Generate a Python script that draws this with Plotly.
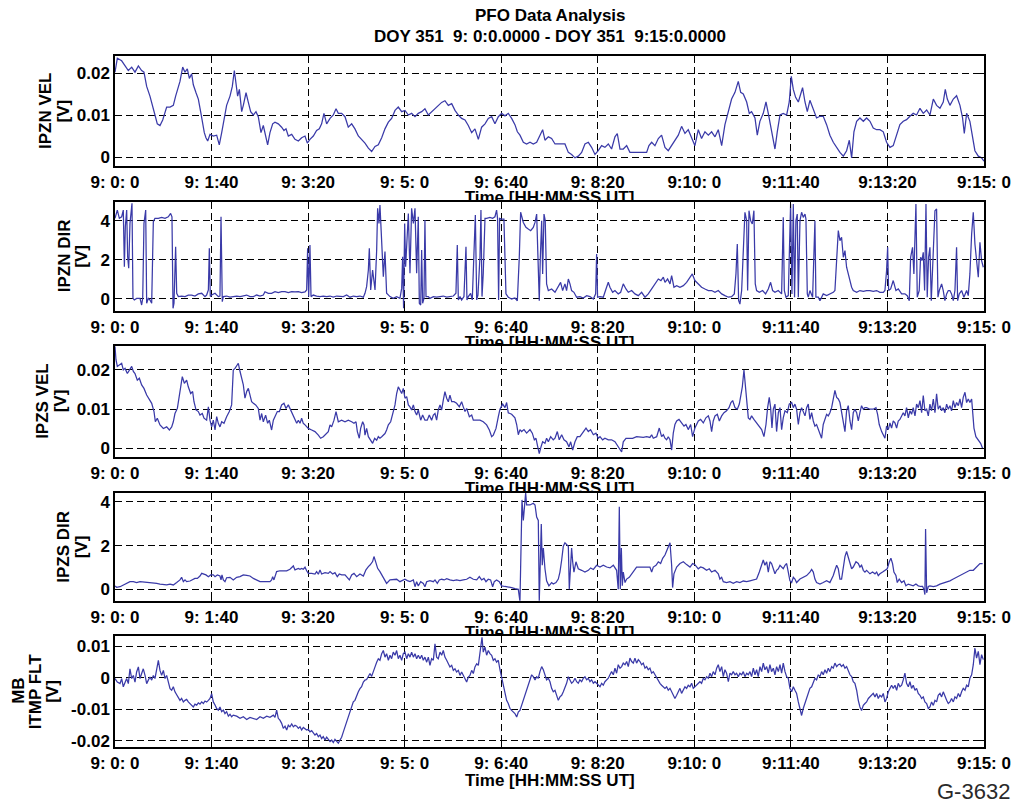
import plotly.graph_objects as go

# ---- sampled channels: (seconds after 9:00:00 UT, volts) ----
ipzn_vel = [
    (0.0, 0.0202), (2.4, 0.0235), (6.9, 0.0229), (10.4, 0.0217), (13.8, 0.0206), (17.3, 0.0214),
    (20.7, 0.0202), (24.2, 0.0217), (27.6, 0.0206), (30.0, 0.0202), (32.8, 0.0168), (36.2, 0.0145),
    (39.0, 0.0123), (41.4, 0.0100), (43.8, 0.0079), (46.6, 0.0075), (49.4, 0.0088), (51.8, 0.0104),
    (53.5, 0.0119), (57.0, 0.0119), (60.4, 0.0123), (62.8, 0.0145), (65.6, 0.0164), (67.3, 0.0180),
    (70.1, 0.0214), (72.5, 0.0202), (74.9, 0.0210), (77.0, 0.0187), (79.4, 0.0198), (81.1, 0.0172),
    (83.9, 0.0153), (86.3, 0.0138), (88.7, 0.0108), (90.8, 0.0075), (92.5, 0.0058), (94.2, 0.0046),
    (96.0, 0.0038), (98.4, 0.0054), (101.8, 0.0050), (105.3, 0.0052), (108.0, 0.0029), (110.5, 0.0058),
    (112.9, 0.0092), (115.6, 0.0123), (119.1, 0.0145), (121.5, 0.0168), (123.6, 0.0206), (125.3, 0.0168),
    (127.0, 0.0145), (128.8, 0.0161), (131.2, 0.0108), (132.9, 0.0123), (135.7, 0.0153), (138.1, 0.0130),
    (140.5, 0.0108), (143.3, 0.0100), (146.0, 0.0108), (148.4, 0.0096), (151.2, 0.0058), (153.6, 0.0075),
    (156.0, 0.0046), (158.1, 0.0029), (160.5, 0.0058), (163.3, 0.0079), (165.7, 0.0083), (169.1, 0.0079),
    (172.6, 0.0071), (175.0, 0.0063), (177.1, 0.0067), (179.5, 0.0050), (183.0, 0.0054), (186.4, 0.0042),
    (189.9, 0.0038), (193.3, 0.0046), (196.8, 0.0050), (199.2, 0.0033), (201.9, 0.0042), (205.4, 0.0050),
    (208.8, 0.0063), (211.6, 0.0067), (214.0, 0.0079), (216.4, 0.0104), (219.2, 0.0079), (222.7, 0.0092),
    (226.1, 0.0100), (228.9, 0.0115), (231.3, 0.0104), (234.7, 0.0104), (238.2, 0.0096), (241.6, 0.0071),
    (245.1, 0.0079), (248.5, 0.0067), (252.0, 0.0050), (255.4, 0.0042), (258.9, 0.0033), (262.4, 0.0021),
    (265.8, 0.0013), (269.3, 0.0025), (272.7, 0.0029), (276.2, 0.0046), (279.6, 0.0067), (283.1, 0.0083),
    (286.5, 0.0092), (290.0, 0.0111), (293.4, 0.0119), (296.9, 0.0108), (300.3, 0.0111), (303.8, 0.0100),
    (307.2, 0.0104), (310.7, 0.0096), (314.1, 0.0104), (317.6, 0.0108), (321.0, 0.0115), (324.5, 0.0100),
    (327.9, 0.0108), (331.4, 0.0115), (334.8, 0.0123), (338.3, 0.0130), (341.7, 0.0134), (345.2, 0.0123),
    (348.7, 0.0127), (352.1, 0.0111), (355.6, 0.0100), (359.0, 0.0092), (362.5, 0.0088), (365.9, 0.0075),
    (369.4, 0.0058), (372.8, 0.0067), (376.3, 0.0042), (379.7, 0.0071), (383.2, 0.0079), (386.6, 0.0092),
    (390.1, 0.0096), (393.5, 0.0079), (397.0, 0.0096), (400.4, 0.0104), (403.9, 0.0098), (407.3, 0.0104),
    (410.8, 0.0092), (414.2, 0.0077), (416.7, 0.0060), (419.4, 0.0052), (422.9, 0.0035), (426.3, 0.0031),
    (429.8, 0.0035), (433.2, 0.0031), (436.7, 0.0035), (440.1, 0.0052), (442.9, 0.0065), (445.3, 0.0040),
    (448.8, 0.0048), (452.2, 0.0044), (455.7, 0.0031), (459.1, 0.0031), (462.6, 0.0031), (466.0, 0.0031),
    (469.5, 0.0011), (472.9, 0.0006), (476.4, -0.0002), (479.8, 0.0002), (483.3, 0.0011), (486.7, 0.0031),
    (490.2, 0.0035), (493.6, 0.0023), (497.1, 0.0006), (500.5, 0.0015), (504.0, 0.0027), (507.4, 0.0023),
    (510.9, 0.0031), (514.3, 0.0019), (517.8, 0.0048), (520.2, 0.0056), (523.0, 0.0019), (526.4, 0.0019),
    (529.9, 0.0027), (533.3, 0.0011), (536.8, 0.0011), (543.7, 0.0011), (550.6, 0.0011), (553.0, 0.0027),
    (555.8, 0.0035), (559.2, 0.0027), (562.7, 0.0044), (566.1, 0.0052), (569.6, 0.0023), (573.0, 0.0015),
    (576.5, 0.0027), (579.9, 0.0040), (583.4, 0.0052), (586.8, 0.0073), (590.3, 0.0056), (593.7, 0.0065),
    (597.2, 0.0044), (600.6, 0.0027), (604.1, 0.0065), (607.5, 0.0044), (611.0, 0.0060), (614.5, 0.0052),
    (617.9, 0.0060), (621.4, 0.0048), (624.8, 0.0065), (628.3, 0.0027), (631.7, 0.0077), (635.2, 0.0112),
    (638.6, 0.0138), (642.1, 0.0154), (645.5, 0.0180), (648.0, 0.0154), (650.7, 0.0150), (654.2, 0.0131),
    (656.9, 0.0104), (659.3, 0.0108), (662.8, 0.0093), (665.2, 0.0052), (667.9, 0.0085), (671.4, 0.0104),
    (674.2, 0.0131), (676.6, 0.0104), (680.0, 0.0060), (683.5, 0.0019), (685.9, 0.0060), (688.7, 0.0100),
    (692.1, 0.0104), (695.6, 0.0100), (698.3, 0.0131), (700.4, 0.0192), (702.5, 0.0161), (704.9, 0.0142),
    (707.7, 0.0131), (710.1, 0.0150), (712.1, 0.0165), (714.6, 0.0131), (717.0, 0.0108), (719.7, 0.0135),
    (723.2, 0.0116), (726.6, 0.0093), (730.1, 0.0097), (733.5, 0.0097), (737.0, 0.0077), (740.4, 0.0052),
    (743.9, 0.0035), (747.3, 0.0023), (750.8, 0.0011), (754.3, 0.0002), (757.7, 0.0015), (760.5, 0.0040),
    (762.9, -0.0002), (765.3, 0.0060), (768.1, 0.0085), (771.5, 0.0093), (775.0, 0.0085), (778.4, 0.0093),
    (781.9, 0.0085), (785.3, 0.0069), (788.8, 0.0065), (792.2, 0.0065), (795.7, 0.0060), (799.1, 0.0035),
    (802.6, 0.0023), (806.0, 0.0027), (809.5, 0.0052), (812.9, 0.0077), (816.4, 0.0085), (819.8, 0.0089),
    (823.3, 0.0097), (826.7, 0.0104), (830.2, 0.0100), (833.7, 0.0116), (837.1, 0.0104), (840.6, 0.0112),
    (844.0, 0.0100), (847.5, 0.0138), (850.9, 0.0123), (854.4, 0.0116), (857.8, 0.0131), (859.9, 0.0161),
    (862.0, 0.0138), (864.7, 0.0123), (868.2, 0.0138), (871.6, 0.0146), (875.1, 0.0123), (877.8, 0.0093),
    (879.6, 0.0056), (882.0, 0.0104), (885.4, 0.0085), (888.2, 0.0044), (890.6, 0.0015), (894.1, 0.0002),
    (897.5, -0.0002), (900.0, -0.0010),
]

ipzn_dir = [
    (0.0, 4.12), (2.4, 4.54), (4.5, 4.12), (6.9, 4.20), (8.6, 4.54), (9.7, 1.65), (10.7, 3.69),
    (12.1, 4.54), (13.1, 2.16), (14.2, 1.57), (15.5, 3.86), (16.6, 4.71), (17.6, 4.89), (18.6, 0.03),
    (20.0, -0.05), (22.4, 0.03), (25.9, 0.03), (27.6, -0.31), (28.7, 0.03), (30.0, 3.86), (31.8, 4.54),
    (32.8, -0.22), (34.5, 0.03), (36.2, -0.05), (38.0, -0.22), (39.7, 3.95), (41.4, 4.12), (44.9, 4.12),
    (48.3, 4.17), (51.8, 4.12), (55.2, 4.20), (57.6, 4.37), (59.0, 4.20), (60.1, -0.48), (61.1, -0.22),
    (62.8, 2.67), (63.9, 0.29), (65.6, 0.12), (69.0, 0.15), (72.5, 0.12), (75.9, 0.19), (79.4, 0.20),
    (82.8, 0.15), (86.3, 0.26), (89.8, 0.29), (93.2, 0.12), (94.9, 0.20), (96.7, 0.46), (97.7, 2.59),
    (98.7, 0.12), (100.1, 0.20), (103.6, 0.29), (107.0, 0.12), (108.7, 0.15), (109.8, 4.20), (111.1, -0.14),
    (112.2, 0.12), (115.6, 0.15), (119.1, 0.09), (122.5, 0.12), (126.0, 0.15), (129.5, 0.12), (132.9, 0.15),
    (136.4, 0.20), (139.8, 0.12), (143.3, 0.12), (146.7, 0.20), (150.2, 0.15), (153.6, 0.20), (155.3, 0.37),
    (158.8, 0.29), (162.2, 0.29), (165.7, 0.37), (169.1, 0.32), (172.6, 0.37), (176.1, 0.37), (179.5, 0.32),
    (183.0, 0.37), (186.4, 0.36), (189.9, 0.37), (193.3, 0.32), (196.8, 0.36), (198.5, 0.46), (199.5, 2.59),
    (200.6, 0.12), (201.9, 2.76), (203.0, 0.12), (205.4, 0.20), (208.8, 0.15), (212.3, 0.12), (215.7, 0.15),
    (219.2, 0.12), (222.7, 0.15), (226.1, 0.09), (229.6, 0.15), (233.0, 0.12), (236.5, 0.12), (239.9, 0.20),
    (243.4, 0.09), (246.8, 0.15), (250.3, 0.12), (253.7, 0.15), (257.2, 0.09), (258.9, 0.29), (260.6, 0.63),
    (262.4, 1.48), (263.4, 2.59), (264.8, 0.46), (266.8, 1.48), (269.3, 0.46), (271.0, 2.50), (272.0, 4.63),
    (273.4, 3.86), (274.4, 4.80), (275.5, 3.52), (276.5, 2.42), (277.9, 1.14), (279.6, 2.42), (281.3, 0.29),
    (284.8, 0.12), (288.2, 0.03), (291.7, 0.12), (295.1, 0.03), (296.9, 0.54), (297.9, 2.16), (298.9, -0.48),
    (300.0, 3.86), (301.0, 1.65), (302.1, 3.01), (303.8, 4.37), (305.5, 1.31), (307.2, 4.63), (309.0, 3.86),
    (310.7, 4.63), (312.4, 1.31), (314.1, 4.20), (315.2, -0.22), (316.6, -0.31), (317.6, 2.50), (318.6, -0.22),
    (320.0, 0.03), (321.0, 4.03), (322.1, 0.12), (324.5, 0.12), (326.2, 0.03), (329.7, 0.12), (333.1, 0.09),
    (336.6, 0.12), (340.0, 0.15), (343.5, 0.09), (346.9, 0.12), (350.4, 0.15), (353.1, 0.29), (354.5, 2.76),
    (355.6, -0.05), (357.3, 0.12), (359.0, -0.05), (361.4, 0.12), (363.5, 2.67), (364.5, -0.05), (365.9, 0.12),
    (368.3, 0.29), (370.0, -0.05), (371.8, 2.16), (373.2, 4.29), (374.6, -0.05), (375.9, 0.20), (378.0, 2.16),
    (379.0, 4.54), (380.1, 0.12), (381.4, 1.31), (383.2, 4.12), (384.9, 4.12), (388.3, 4.17), (391.1, 4.12),
    (393.5, 4.20), (395.2, 4.54), (396.2, 4.12), (397.3, -0.05), (398.3, 4.12), (400.4, 4.08), (402.8, 4.08),
    (404.9, 0.26), (407.3, 0.09), (410.8, 0.00), (414.2, 0.05), (416.7, -0.09), (418.7, 2.13), (420.1, 4.43),
    (422.9, 3.91), (425.6, 3.66), (428.0, 3.57), (430.5, 3.49), (433.2, 3.66), (435.0, 3.91), (436.7, 4.34),
    (438.1, 1.28), (439.4, -0.09), (440.5, 2.13), (441.9, 4.00), (442.9, 1.28), (444.3, 4.34), (445.6, 4.00),
    (447.0, 0.77), (448.8, 0.43), (452.2, 0.51), (455.7, 0.34), (459.1, 0.60), (461.5, 0.85), (463.6, 0.43),
    (466.0, 0.77), (467.7, 0.43), (469.5, 1.02), (471.2, 0.77), (472.9, 0.43), (475.3, 0.34), (478.1, 0.09),
    (481.5, 0.12), (485.0, 0.05), (488.5, 0.17), (491.9, 0.12), (495.4, 0.00), (497.8, 0.26), (498.8, 2.30),
    (499.8, 0.09), (502.3, 0.12), (505.7, 0.09), (508.5, 0.51), (510.9, 0.85), (512.6, 0.60), (515.4, 0.34),
    (517.8, 0.43), (521.2, 0.26), (523.7, 0.34), (526.4, 0.77), (529.2, 0.51), (531.6, 0.34), (535.1, 0.43),
    (538.5, 0.26), (542.0, 0.17), (545.4, 0.34), (548.9, 0.09), (552.3, 0.26), (555.8, 0.51), (559.2, 0.77),
    (562.7, 1.02), (565.4, 0.94), (567.9, 1.11), (569.6, 0.85), (572.3, 1.02), (574.8, 0.77), (576.5, 1.19),
    (578.9, 0.60), (581.7, 0.68), (585.1, 0.60), (588.6, 0.68), (592.0, 0.85), (595.5, 1.11), (597.9, 1.28),
    (600.6, 0.94), (604.1, 0.77), (607.5, 0.60), (611.0, 0.51), (614.5, 0.43), (617.9, 0.43), (621.4, 0.34),
    (624.8, 0.43), (628.3, 0.26), (631.7, 0.17), (635.2, 0.09), (638.6, 0.12), (641.4, 0.26), (643.1, 1.28),
    (644.5, 2.81), (645.9, -0.09), (647.2, -0.26), (649.0, 0.43), (650.7, 2.13), (652.4, 4.43), (654.2, 4.00),
    (655.2, 0.43), (656.6, 4.51), (658.3, 4.00), (660.0, 3.83), (661.7, 4.51), (663.1, 0.77), (664.5, 0.43),
    (667.3, 0.34), (670.7, 0.43), (673.8, 0.26), (676.6, 0.51), (679.0, 0.85), (681.1, 0.43), (683.5, 0.34),
    (686.9, 0.43), (690.4, 0.26), (692.1, 4.17), (693.2, 0.43), (694.9, 0.09), (697.3, 0.17), (698.3, 2.13),
    (699.7, 4.85), (701.1, 0.26), (702.5, 4.85), (703.8, 0.09), (705.2, 4.00), (706.6, 4.34), (707.7, 0.09),
    (709.4, 4.00), (711.1, 4.43), (712.8, 4.17), (714.6, 4.34), (715.6, 4.08), (717.0, 0.26), (718.0, 0.09),
    (719.7, 0.43), (722.5, 0.09), (724.9, 4.00), (725.9, 0.09), (728.4, 0.09), (730.1, -0.09), (733.5, 0.26),
    (737.0, 0.17), (740.4, 0.26), (743.9, 0.34), (745.6, 0.43), (747.4, 2.13), (749.1, 3.49), (750.8, 2.98),
    (752.5, 3.15), (754.3, 2.13), (756.0, 2.47), (757.7, 1.62), (759.4, 1.28), (761.2, 0.94), (762.9, 0.60),
    (764.6, 0.43), (768.1, 0.34), (771.5, 0.43), (775.0, 0.39), (778.4, 0.43), (781.9, 0.43), (785.3, 0.39),
    (788.8, 0.43), (792.2, 0.34), (795.7, 0.34), (797.4, 0.43), (799.1, 1.45), (800.2, 2.64), (801.2, 0.43),
    (803.3, 0.51), (806.0, 0.94), (808.8, 0.43), (811.2, 0.51), (814.7, 0.26), (818.1, 0.26), (820.5, 0.17),
    (822.6, -0.09), (824.0, 2.13), (826.0, 2.64), (827.4, 1.28), (829.5, 4.85), (830.9, 0.09), (832.9, 0.43),
    (834.3, 2.13), (835.7, 1.96), (837.1, 2.38), (838.5, 0.43), (839.9, 4.85), (841.2, 0.09), (842.6, 2.13),
    (844.0, 2.64), (845.4, -0.09), (847.5, 2.13), (849.2, 4.51), (850.9, 4.60), (852.3, 0.09), (853.7, 0.43),
    (856.1, 0.77), (857.8, 0.43), (859.5, -0.09), (861.3, 0.26), (863.0, 0.43), (864.7, 0.43), (866.4, 0.26),
    (868.2, -0.09), (869.9, 0.43), (871.6, 2.64), (872.7, -0.09), (874.4, 0.26), (876.8, 0.43), (879.2, 0.09),
    (882.0, 0.43), (883.7, 0.17), (885.4, 1.28), (887.2, 3.32), (888.9, 4.43), (890.6, 2.81), (892.3, 2.13),
    (894.1, 1.11), (895.8, 2.89), (897.5, 1.96), (899.3, 1.62),
]

ipzs_vel = [
    (0.0, 0.0260), (1.0, 0.0226), (2.4, 0.0209), (4.5, 0.0213), (6.9, 0.0217), (8.6, 0.0200),
    (10.4, 0.0204), (12.8, 0.0191), (14.8, 0.0200), (17.3, 0.0209), (19.0, 0.0196), (20.7, 0.0191),
    (23.1, 0.0174), (25.2, 0.0179), (27.6, 0.0162), (30.0, 0.0153), (32.8, 0.0136), (35.6, 0.0123),
    (38.0, 0.0115), (40.4, 0.0094), (41.8, 0.0068), (43.8, 0.0077), (46.6, 0.0060), (50.1, 0.0051),
    (53.5, 0.0055), (56.3, 0.0047), (58.7, 0.0055), (60.4, 0.0068), (62.1, 0.0089), (64.6, 0.0102),
    (67.3, 0.0140), (69.7, 0.0183), (71.8, 0.0166), (74.2, 0.0174), (75.9, 0.0157), (78.4, 0.0140),
    (80.4, 0.0145), (81.8, 0.0119), (83.9, 0.0098), (86.3, 0.0094), (88.0, 0.0085), (90.4, 0.0089),
    (92.2, 0.0077), (94.9, 0.0072), (96.7, 0.0106), (98.4, 0.0072), (100.1, 0.0055), (101.8, 0.0072),
    (103.6, 0.0047), (105.3, 0.0081), (107.0, 0.0064), (108.7, 0.0055), (110.5, 0.0068), (112.9, 0.0064),
    (115.6, 0.0081), (118.4, 0.0094), (120.8, 0.0111), (122.5, 0.0200), (124.3, 0.0204), (126.0, 0.0209),
    (127.7, 0.0217), (129.5, 0.0196), (131.2, 0.0174), (132.9, 0.0162), (134.6, 0.0128), (136.4, 0.0145),
    (138.1, 0.0153), (139.8, 0.0132), (141.5, 0.0119), (143.3, 0.0115), (145.7, 0.0111), (148.4, 0.0102),
    (150.2, 0.0072), (151.9, 0.0089), (153.6, 0.0068), (156.0, 0.0085), (158.1, 0.0064), (159.8, 0.0072),
    (162.2, 0.0047), (164.0, 0.0072), (165.7, 0.0081), (168.1, 0.0094), (170.2, 0.0094), (172.6, 0.0111),
    (175.0, 0.0115), (177.1, 0.0102), (179.5, 0.0111), (181.9, 0.0098), (184.0, 0.0085), (186.4, 0.0072),
    (188.2, 0.0064), (189.9, 0.0072), (191.6, 0.0064), (193.3, 0.0077), (195.0, 0.0064), (196.8, 0.0060),
    (198.5, 0.0055), (200.2, 0.0051), (203.7, 0.0047), (207.1, 0.0043), (210.6, 0.0034), (213.0, 0.0026),
    (215.7, 0.0030), (218.5, 0.0038), (220.9, 0.0043), (222.7, 0.0060), (224.4, 0.0055), (226.8, 0.0072),
    (228.9, 0.0094), (231.3, 0.0068), (234.7, 0.0072), (238.2, 0.0068), (241.6, 0.0072), (245.1, 0.0068),
    (247.5, 0.0064), (249.6, 0.0068), (251.0, 0.0043), (253.0, 0.0026), (254.4, 0.0051), (256.5, 0.0068),
    (257.9, 0.0060), (258.9, 0.0034), (260.6, 0.0051), (262.4, 0.0030), (264.8, 0.0021), (266.8, 0.0013),
    (268.9, 0.0026), (271.0, 0.0021), (272.7, 0.0030), (274.4, 0.0026), (276.2, 0.0030), (277.9, 0.0034),
    (279.6, 0.0038), (281.3, 0.0047), (283.1, 0.0060), (285.5, 0.0068), (287.6, 0.0089), (290.0, 0.0111),
    (291.7, 0.0140), (293.4, 0.0157), (295.1, 0.0149), (296.9, 0.0140), (298.6, 0.0153), (300.3, 0.0128),
    (302.1, 0.0132), (303.8, 0.0111), (305.5, 0.0106), (307.2, 0.0098), (309.0, 0.0111), (310.7, 0.0094),
    (312.4, 0.0085), (314.1, 0.0098), (316.6, 0.0072), (318.6, 0.0085), (321.0, 0.0072), (323.4, 0.0072),
    (325.5, 0.0085), (327.9, 0.0072), (329.7, 0.0085), (331.4, 0.0089), (333.1, 0.0072), (334.8, 0.0098),
    (336.6, 0.0111), (338.3, 0.0098), (340.0, 0.0123), (341.7, 0.0145), (343.5, 0.0128), (345.2, 0.0119),
    (346.9, 0.0136), (348.7, 0.0119), (351.1, 0.0119), (353.8, 0.0115), (356.6, 0.0106), (359.0, 0.0119),
    (360.7, 0.0106), (362.5, 0.0094), (364.2, 0.0102), (367.0, 0.0081), (369.4, 0.0085), (371.1, 0.0072),
    (374.6, 0.0072), (378.0, 0.0072), (381.4, 0.0068), (384.9, 0.0060), (387.7, 0.0047), (390.1, 0.0030),
    (391.8, 0.0034), (394.6, 0.0051), (397.0, 0.0081), (398.7, 0.0100), (401.5, 0.0113), (403.9, 0.0104),
    (405.6, 0.0117), (407.3, 0.0091), (410.8, 0.0087), (414.2, 0.0078), (416.0, 0.0061), (417.7, 0.0035),
    (419.4, 0.0048), (421.1, 0.0043), (423.6, 0.0048), (426.3, 0.0039), (429.8, 0.0048), (432.2, 0.0039),
    (434.3, 0.0022), (436.0, 0.0026), (437.4, 0.0009), (439.4, -0.0013), (441.2, 0.0004), (442.9, 0.0017),
    (445.3, 0.0013), (447.0, 0.0026), (448.8, 0.0017), (451.2, 0.0030), (453.9, 0.0022), (455.7, 0.0026),
    (458.1, 0.0043), (460.1, 0.0022), (462.6, 0.0035), (465.0, 0.0022), (467.7, 0.0017), (470.2, 0.0004),
    (471.9, 0.0017), (474.0, -0.0004), (476.4, 0.0017), (478.8, 0.0030), (481.5, 0.0030), (485.0, 0.0043),
    (487.8, 0.0052), (490.2, 0.0043), (492.6, 0.0048), (495.4, 0.0035), (498.1, 0.0039), (500.5, 0.0026),
    (502.3, 0.0030), (505.0, 0.0022), (507.4, 0.0026), (510.9, 0.0022), (514.3, 0.0022), (517.8, 0.0017),
    (520.2, 0.0009), (522.3, 0.0000), (524.7, -0.0009), (526.4, 0.0017), (529.2, 0.0026), (532.6, 0.0026),
    (536.1, 0.0026), (540.2, 0.0030), (543.7, 0.0028), (547.1, 0.0028), (550.6, 0.0030), (554.0, 0.0028),
    (555.8, 0.0035), (557.5, 0.0026), (561.0, 0.0030), (563.7, 0.0052), (566.1, 0.0030), (567.9, 0.0035),
    (569.6, 0.0026), (571.3, 0.0022), (573.0, 0.0030), (574.8, 0.0022), (576.5, -0.0004), (578.2, 0.0039),
    (579.9, 0.0061), (581.7, 0.0070), (584.1, 0.0074), (586.8, 0.0065), (589.3, 0.0057), (591.3, 0.0061),
    (593.7, 0.0048), (596.2, 0.0061), (598.2, 0.0030), (600.6, 0.0052), (602.4, 0.0061), (604.1, 0.0070),
    (606.5, 0.0074), (609.3, 0.0065), (612.0, 0.0078), (614.5, 0.0083), (616.2, 0.0070), (617.9, 0.0043),
    (619.6, 0.0070), (621.4, 0.0083), (623.8, 0.0087), (625.9, 0.0070), (628.3, 0.0083), (630.7, 0.0091),
    (633.4, 0.0096), (635.9, 0.0104), (637.9, 0.0117), (639.7, 0.0122), (642.1, 0.0104), (644.5, 0.0100),
    (646.6, 0.0113), (648.0, 0.0130), (649.7, 0.0157), (651.4, 0.0200), (652.8, 0.0165), (654.2, 0.0113),
    (655.9, 0.0078), (657.6, 0.0074), (659.3, 0.0083), (661.7, 0.0074), (664.5, 0.0065), (667.3, 0.0057),
    (669.7, 0.0048), (672.1, 0.0030), (674.2, 0.0061), (675.9, 0.0104), (677.6, 0.0130), (679.0, 0.0104),
    (680.4, 0.0052), (681.8, 0.0100), (683.5, 0.0113), (685.2, 0.0043), (687.0, 0.0091), (688.7, 0.0104),
    (690.4, 0.0048), (692.1, 0.0078), (693.9, 0.0096), (696.3, 0.0091), (698.3, 0.0113), (700.8, 0.0117),
    (702.5, 0.0104), (704.2, 0.0113), (705.9, 0.0100), (707.7, 0.0061), (709.4, 0.0091), (711.1, 0.0104),
    (712.8, 0.0091), (714.6, 0.0083), (716.3, 0.0104), (718.0, 0.0113), (719.7, 0.0074), (721.5, 0.0091),
    (723.2, 0.0070), (724.9, 0.0057), (726.6, 0.0061), (729.4, 0.0039), (731.8, 0.0026), (733.5, 0.0061),
    (735.3, 0.0074), (737.0, 0.0087), (738.7, 0.0083), (740.4, 0.0091), (742.2, 0.0104), (743.9, 0.0130),
    (745.6, 0.0148), (747.4, 0.0130), (749.1, 0.0126), (750.8, 0.0117), (752.5, 0.0096), (754.3, 0.0065),
    (756.0, 0.0043), (757.7, 0.0096), (759.4, 0.0109), (761.2, 0.0070), (762.9, 0.0048), (764.6, 0.0091),
    (766.3, 0.0100), (768.1, 0.0091), (769.8, 0.0070), (771.5, 0.0091), (773.2, 0.0109), (775.0, 0.0100),
    (776.7, 0.0104), (778.4, 0.0104), (781.9, 0.0100), (785.3, 0.0100), (788.1, 0.0104), (789.8, 0.0087),
    (791.5, 0.0061), (794.0, 0.0043), (795.7, 0.0035), (797.4, 0.0026), (799.1, 0.0057), (800.9, 0.0048),
    (802.6, 0.0065), (804.3, 0.0052), (806.0, 0.0070), (807.8, 0.0065), (809.5, 0.0052), (811.2, 0.0070),
    (812.9, 0.0074), (814.7, 0.0083), (816.4, 0.0091), (818.1, 0.0083), (819.8, 0.0104), (821.6, 0.0078),
    (823.3, 0.0096), (825.0, 0.0087), (826.7, 0.0104), (828.5, 0.0083), (830.2, 0.0113), (831.9, 0.0104),
    (833.7, 0.0122), (835.4, 0.0091), (837.1, 0.0135), (838.8, 0.0096), (840.6, 0.0100), (842.3, 0.0083),
    (844.0, 0.0113), (845.7, 0.0096), (847.5, 0.0126), (849.2, 0.0091), (850.9, 0.0139), (852.6, 0.0100),
    (854.4, 0.0109), (856.1, 0.0096), (857.8, 0.0104), (859.5, 0.0091), (861.3, 0.0113), (863.0, 0.0100),
    (864.7, 0.0109), (866.4, 0.0096), (868.2, 0.0122), (869.9, 0.0104), (871.6, 0.0117), (873.4, 0.0109),
    (875.1, 0.0126), (876.8, 0.0104), (878.5, 0.0130), (880.3, 0.0143), (882.0, 0.0117), (883.7, 0.0126),
    (885.4, 0.0117), (887.2, 0.0126), (888.2, 0.0096), (889.6, 0.0052), (891.6, 0.0030), (894.1, 0.0022),
    (896.5, 0.0013), (898.6, 0.0000),
]

ipzs_dir = [
    (0.0, 0.15), (1.7, 0.09), (5.2, 0.12), (8.6, 0.20), (12.1, 0.27), (15.5, 0.35), (19.0, 0.35),
    (22.4, 0.31), (25.9, 0.35), (29.3, 0.34), (32.8, 0.31), (36.2, 0.32), (39.7, 0.31), (43.2, 0.27),
    (46.6, 0.24), (50.1, 0.21), (53.5, 0.20), (57.0, 0.24), (60.4, 0.20), (63.9, 0.31), (67.3, 0.43),
    (69.0, 0.55), (70.8, 0.35), (72.5, 0.43), (74.2, 0.35), (77.7, 0.38), (80.4, 0.43), (82.8, 0.50),
    (85.3, 0.50), (88.0, 0.61), (89.8, 0.73), (92.2, 0.69), (94.2, 0.66), (96.7, 0.58), (99.1, 0.66),
    (101.8, 0.66), (103.6, 0.58), (106.0, 0.66), (108.7, 0.61), (109.8, 0.43), (110.8, 0.66), (112.2, 0.43),
    (113.9, 0.35), (115.6, 0.53), (119.1, 0.55), (122.5, 0.43), (126.0, 0.55), (129.5, 0.58), (132.9, 0.66),
    (136.4, 0.64), (139.8, 0.61), (143.3, 0.50), (146.7, 0.43), (150.2, 0.35), (153.6, 0.35), (157.1, 0.35),
    (160.5, 0.35), (162.2, 0.43), (163.3, 0.58), (164.6, 0.43), (166.0, 0.66), (167.4, 0.81), (170.8, 0.85),
    (174.3, 0.85), (177.8, 0.85), (181.2, 0.92), (183.0, 1.01), (184.7, 1.07), (186.4, 0.89), (188.2, 0.92),
    (189.9, 0.96), (191.6, 0.92), (193.3, 0.96), (195.0, 0.92), (196.8, 1.01), (198.5, 0.85), (200.2, 0.73),
    (203.7, 0.73), (207.1, 0.70), (208.8, 0.81), (210.6, 0.69), (212.3, 0.89), (214.0, 0.70), (217.5, 0.76),
    (220.9, 0.73), (222.7, 0.81), (225.4, 0.70), (227.8, 0.76), (230.2, 0.58), (232.3, 0.70), (234.7, 0.66),
    (238.2, 0.66), (240.6, 0.53), (242.7, 0.43), (245.1, 0.66), (247.5, 0.73), (250.3, 0.58), (253.7, 0.70),
    (257.2, 0.61), (259.9, 0.89), (262.4, 1.04), (264.1, 1.11), (266.8, 1.27), (268.2, 1.50), (269.9, 1.27),
    (272.0, 0.96), (274.4, 0.81), (277.2, 0.58), (279.6, 0.35), (281.3, 0.27), (284.8, 0.43), (288.2, 0.43),
    (291.7, 0.46), (295.1, 0.35), (298.6, 0.43), (300.3, 0.46), (302.8, 0.40), (305.5, 0.35), (309.0, 0.43),
    (310.7, 0.12), (312.4, 0.35), (314.1, 0.15), (316.6, 0.35), (319.3, 0.27), (321.0, 0.12), (322.8, 0.35),
    (326.2, 0.40), (329.7, 0.35), (331.4, 0.43), (333.8, 0.27), (335.9, 0.43), (338.3, 0.46), (341.0, 0.43),
    (343.5, 0.49), (346.9, 0.43), (350.4, 0.40), (353.8, 0.43), (357.3, 0.40), (360.7, 0.43), (364.2, 0.46),
    (367.6, 0.55), (371.1, 0.46), (374.6, 0.43), (377.3, 0.58), (379.7, 0.43), (382.1, 0.50), (384.2, 0.35),
    (386.6, 0.46), (389.0, 0.43), (391.1, 0.12), (392.8, 0.35), (395.2, 0.43), (398.0, 0.35), (400.4, 0.16),
    (403.9, 0.13), (407.3, 0.11), (410.8, 0.08), (414.2, 0.03), (417.7, 0.00), (419.4, -0.55), (420.5, 1.89),
    (421.5, 4.09), (422.9, 3.15), (423.9, 3.78), (425.3, 4.41), (426.3, 3.86), (429.8, 3.86), (433.2, 3.94),
    (435.0, 3.86), (436.7, 3.31), (438.4, 3.15), (439.4, -0.55), (440.5, 1.89), (441.5, 2.99), (442.5, 1.10),
    (443.6, 1.89), (445.3, 0.94), (447.0, 0.39), (449.4, 0.16), (452.2, 0.31), (453.9, 0.24), (456.7, 0.31),
    (459.1, 0.47), (460.8, 0.79), (462.6, 1.34), (464.3, 1.97), (466.0, 2.13), (467.7, 2.05), (469.5, 1.97),
    (470.5, 0.00), (471.9, 0.94), (472.9, 1.89), (474.0, 1.26), (475.3, 0.79), (477.4, 1.26), (479.8, 0.94),
    (483.3, 0.87), (486.7, 0.79), (490.2, 0.87), (492.6, 0.98), (495.4, 0.91), (498.8, 1.10), (502.3, 1.02),
    (505.7, 1.10), (509.2, 1.02), (512.6, 0.98), (516.1, 1.10), (519.5, 0.87), (521.2, 0.00), (522.3, 3.78),
    (523.3, 0.00), (524.4, 1.89), (525.4, 0.16), (526.4, 0.79), (528.2, 0.31), (529.9, 0.47), (532.6, 0.55),
    (535.1, 0.71), (537.5, 0.87), (540.2, 1.02), (543.7, 1.02), (547.1, 1.02), (550.6, 1.02), (554.0, 1.02),
    (555.8, 0.79), (557.5, 1.02), (560.3, 1.10), (562.7, 1.26), (565.1, 1.18), (567.2, 1.42), (569.6, 1.57),
    (571.3, 1.73), (573.0, 1.97), (574.8, 2.13), (576.5, 1.10), (577.5, 0.08), (578.9, 0.71), (581.7, 1.02),
    (585.1, 1.18), (588.6, 1.26), (592.0, 1.13), (595.5, 1.02), (598.2, 1.18), (600.6, 1.13), (604.1, 0.94),
    (606.5, 1.02), (609.3, 0.98), (612.7, 0.87), (615.5, 0.94), (617.9, 0.79), (621.4, 0.87), (624.8, 0.71),
    (626.5, 0.47), (628.3, 0.55), (630.0, 0.35), (633.4, 0.31), (636.9, 0.35), (640.3, 0.28), (643.8, 0.35),
    (647.2, 0.31), (650.7, 0.38), (654.2, 0.35), (657.6, 0.39), (661.1, 0.43), (664.5, 0.47), (667.3, 0.79),
    (669.7, 1.18), (671.4, 1.34), (673.1, 1.10), (674.9, 1.26), (676.6, 0.79), (678.3, 1.26), (680.0, 1.18),
    (681.8, 0.94), (683.5, 0.71), (685.2, 0.87), (687.0, 0.94), (688.7, 1.10), (690.4, 1.02), (692.1, 0.94),
    (693.9, 1.10), (695.6, 1.18), (697.3, 0.79), (699.0, 0.39), (700.8, 0.31), (702.5, 0.55), (704.2, 0.47),
    (705.9, 0.31), (709.4, 0.47), (712.8, 0.55), (716.3, 0.63), (719.7, 0.79), (721.5, 0.91), (723.2, 0.79),
    (724.9, 0.47), (726.6, 0.31), (730.1, 0.24), (733.5, 0.31), (737.0, 0.39), (740.4, 0.31), (743.9, 0.63),
    (745.6, 0.87), (747.4, 1.10), (749.1, 0.94), (750.8, 0.47), (752.5, 0.47), (754.3, 1.10), (756.0, 1.50),
    (757.7, 1.73), (759.4, 1.50), (761.2, 1.18), (762.9, 0.94), (764.6, 1.02), (767.4, 1.26), (769.8, 1.18),
    (771.5, 1.02), (773.2, 1.10), (775.0, 0.87), (776.7, 0.79), (778.4, 0.87), (781.9, 0.71), (784.6, 0.79),
    (787.1, 0.71), (788.8, 0.79), (790.5, 0.63), (792.2, 0.71), (795.0, 0.79), (797.4, 0.87), (799.8, 0.94),
    (801.9, 1.26), (803.6, 1.42), (805.3, 1.18), (806.7, 0.79), (808.8, 0.63), (810.2, 0.31), (812.2, 0.47),
    (814.7, 0.31), (817.1, 0.39), (819.1, 0.16), (821.6, 0.24), (824.0, 0.19), (826.7, 0.16), (829.5, 0.24),
    (831.9, 0.16), (834.4, 0.13), (836.4, 0.13), (837.8, 0.00), (838.8, -0.24), (839.5, 2.76), (840.6, -0.16),
    (842.3, 0.13), (844.0, 0.16), (847.5, 0.13), (850.9, 0.16), (854.4, 0.24), (857.8, 0.28), (861.3, 0.35),
    (864.7, 0.39), (868.2, 0.47), (871.6, 0.55), (875.1, 0.63), (878.5, 0.71), (882.0, 0.79), (885.4, 0.87),
    (888.9, 0.87), (892.3, 1.02), (895.8, 1.18), (898.6, 1.18),
]

mb_itmp_flt = [
    (0.0, -0.0003), (2.4, -0.0014), (5.2, -0.0019), (6.9, -0.0003), (8.6, -0.0029), (10.4, -0.0014),
    (12.1, -0.0003), (13.8, -0.0019), (15.5, 0.0028), (17.3, -0.0003), (19.0, 0.0007), (20.7, -0.0014),
    (22.4, 0.0018), (24.2, 0.0034), (25.9, -0.0003), (27.6, 0.0013), (29.3, 0.0028), (31.1, 0.0007),
    (32.8, -0.0019), (34.5, -0.0008), (36.2, 0.0002), (38.0, -0.0008), (39.7, 0.0007), (41.4, -0.0003),
    (43.2, 0.0023), (44.9, 0.0055), (46.6, 0.0023), (48.3, 0.0007), (50.1, 0.0023), (51.8, -0.0003),
    (53.5, 0.0007), (55.2, -0.0019), (57.0, -0.0035), (58.7, -0.0040), (60.4, -0.0029), (62.1, -0.0045),
    (63.9, -0.0056), (65.6, -0.0066), (67.3, -0.0072), (69.0, -0.0066), (70.8, -0.0077), (72.5, -0.0072),
    (74.2, -0.0069), (75.9, -0.0077), (77.7, -0.0082), (79.4, -0.0087), (81.1, -0.0093), (82.8, -0.0084),
    (84.6, -0.0087), (86.3, -0.0080), (88.0, -0.0084), (89.8, -0.0077), (91.5, -0.0082), (93.2, -0.0074),
    (94.9, -0.0077), (96.7, -0.0072), (98.4, -0.0066), (100.1, -0.0051), (101.8, -0.0077), (103.6, -0.0087),
    (105.3, -0.0098), (107.0, -0.0103), (108.7, -0.0093), (110.5, -0.0108), (112.2, -0.0103), (113.9, -0.0114),
    (115.6, -0.0108), (117.4, -0.0122), (119.1, -0.0116), (120.8, -0.0124), (122.5, -0.0119), (126.0, -0.0122),
    (129.5, -0.0129), (132.9, -0.0124), (136.4, -0.0133), (139.8, -0.0126), (143.3, -0.0129), (146.7, -0.0133),
    (150.2, -0.0124), (153.6, -0.0129), (157.1, -0.0122), (160.5, -0.0126), (164.0, -0.0119), (165.7, -0.0126),
    (167.4, -0.0103), (169.1, -0.0129), (170.8, -0.0135), (172.6, -0.0145), (174.3, -0.0161), (176.1, -0.0154),
    (177.8, -0.0166), (179.5, -0.0151), (181.2, -0.0156), (183.0, -0.0147), (184.7, -0.0156), (186.4, -0.0151),
    (188.2, -0.0154), (189.9, -0.0161), (191.6, -0.0156), (193.3, -0.0166), (195.0, -0.0158), (196.8, -0.0161),
    (198.5, -0.0166), (200.2, -0.0164), (201.9, -0.0172), (203.7, -0.0168), (205.4, -0.0175), (207.1, -0.0182),
    (208.8, -0.0177), (210.6, -0.0187), (212.3, -0.0182), (214.0, -0.0193), (215.7, -0.0187), (217.5, -0.0198),
    (219.2, -0.0189), (220.9, -0.0196), (222.7, -0.0203), (224.4, -0.0198), (226.1, -0.0206), (227.8, -0.0196),
    (229.6, -0.0203), (231.3, -0.0208), (233.0, -0.0198), (234.7, -0.0189), (236.5, -0.0172), (238.2, -0.0156),
    (239.9, -0.0140), (241.6, -0.0124), (243.4, -0.0103), (245.1, -0.0087), (246.8, -0.0077), (248.5, -0.0072),
    (250.3, -0.0056), (252.0, -0.0045), (253.7, -0.0035), (255.4, -0.0029), (257.2, -0.0014), (258.9, -0.0008),
    (260.6, -0.0006), (262.4, 0.0002), (264.1, 0.0013), (265.8, 0.0004), (267.5, 0.0023), (269.3, 0.0034),
    (271.0, 0.0049), (272.7, 0.0060), (274.4, 0.0055), (276.2, 0.0076), (277.9, 0.0086), (279.6, 0.0065),
    (281.3, 0.0076), (283.1, 0.0055), (284.8, 0.0071), (286.5, 0.0060), (288.2, 0.0081), (290.0, 0.0071),
    (291.7, 0.0086), (293.4, 0.0060), (295.1, 0.0071), (296.9, 0.0055), (298.6, 0.0076), (300.3, 0.0081),
    (302.1, 0.0060), (303.8, 0.0076), (305.5, 0.0065), (307.2, 0.0081), (309.0, 0.0065), (310.7, 0.0076),
    (312.4, 0.0060), (314.1, 0.0071), (315.9, 0.0060), (317.6, 0.0071), (319.3, 0.0055), (321.0, 0.0065),
    (322.8, 0.0049), (324.5, 0.0065), (326.2, 0.0039), (327.9, 0.0060), (329.7, 0.0055), (331.4, 0.0107),
    (333.1, 0.0065), (334.8, 0.0060), (336.6, 0.0081), (338.3, 0.0071), (340.0, 0.0086), (341.7, 0.0065),
    (343.5, 0.0055), (345.2, 0.0044), (346.9, 0.0034), (348.7, 0.0039), (350.4, 0.0023), (352.1, 0.0028),
    (353.8, 0.0018), (355.6, 0.0023), (357.3, 0.0007), (359.0, 0.0018), (360.7, 0.0007), (362.5, -0.0003),
    (364.2, -0.0014), (365.9, 0.0002), (367.6, 0.0007), (369.4, 0.0023), (371.1, 0.0013), (372.8, 0.0034),
    (374.6, 0.0044), (376.3, 0.0039), (378.0, 0.0076), (379.0, 0.0102), (380.1, 0.0128), (381.4, 0.0081),
    (383.2, 0.0097), (384.9, 0.0071), (386.6, 0.0086), (388.3, 0.0076), (390.1, 0.0071), (391.8, 0.0055),
    (393.5, 0.0060), (395.2, 0.0049), (397.0, 0.0055), (398.7, 0.0025), (400.4, 0.0003), (402.2, -0.0024),
    (403.9, -0.0050), (405.6, -0.0072), (407.3, -0.0082), (409.1, -0.0098), (410.8, -0.0104), (412.5, -0.0109),
    (414.2, -0.0114), (416.0, -0.0125), (417.7, -0.0109), (419.4, -0.0104), (421.1, -0.0088), (422.9, -0.0072),
    (424.6, -0.0050), (426.3, -0.0034), (428.0, -0.0018), (429.8, -0.0002), (431.5, 0.0009), (433.2, 0.0003),
    (435.0, -0.0007), (436.7, 0.0003), (438.4, -0.0002), (440.1, 0.0019), (441.9, 0.0035), (443.6, 0.0025),
    (445.3, 0.0009), (447.0, -0.0007), (448.8, -0.0002), (450.5, -0.0013), (452.2, -0.0034), (453.9, -0.0045),
    (455.7, -0.0040), (457.4, -0.0056), (459.1, -0.0072), (460.8, -0.0061), (462.6, -0.0056), (464.3, -0.0045),
    (466.0, -0.0034), (467.7, -0.0018), (469.5, 0.0003), (471.2, -0.0007), (472.9, -0.0018), (474.6, -0.0013),
    (476.4, -0.0002), (478.1, -0.0013), (479.8, -0.0018), (481.5, -0.0007), (483.3, -0.0013), (485.0, -0.0002),
    (486.7, 0.0003), (488.5, -0.0007), (490.2, -0.0002), (491.9, -0.0013), (493.6, -0.0007), (495.4, -0.0018),
    (497.1, -0.0013), (498.8, -0.0018), (500.5, -0.0024), (502.3, -0.0029), (504.0, -0.0018), (505.7, -0.0024),
    (507.4, -0.0013), (509.2, -0.0007), (510.9, -0.0002), (512.6, 0.0009), (514.3, 0.0019), (516.1, 0.0009),
    (517.8, 0.0030), (519.5, 0.0014), (521.2, 0.0041), (523.0, 0.0030), (524.7, 0.0035), (526.4, 0.0046),
    (528.2, 0.0041), (529.9, 0.0051), (531.6, 0.0035), (533.3, 0.0062), (535.1, 0.0051), (536.8, 0.0046),
    (538.5, 0.0062), (540.2, 0.0046), (542.0, 0.0057), (543.7, 0.0051), (545.4, 0.0041), (547.1, 0.0046),
    (548.9, 0.0030), (550.6, 0.0035), (552.3, 0.0025), (554.0, 0.0030), (555.8, 0.0014), (557.5, 0.0019),
    (559.2, 0.0009), (561.0, -0.0002), (562.7, -0.0007), (564.4, -0.0018), (566.1, -0.0024), (567.9, -0.0029),
    (569.6, -0.0034), (571.3, -0.0029), (573.0, -0.0040), (574.8, -0.0034), (576.5, -0.0045), (578.2, -0.0056),
    (579.9, -0.0066), (581.7, -0.0056), (583.4, -0.0045), (585.1, -0.0034), (586.8, -0.0050), (588.6, -0.0040),
    (590.3, -0.0029), (592.0, -0.0034), (593.7, -0.0024), (595.5, -0.0029), (597.2, -0.0018), (598.9, -0.0034),
    (600.6, -0.0029), (602.4, -0.0024), (604.1, -0.0018), (605.8, -0.0013), (607.5, -0.0018), (609.3, -0.0002),
    (611.0, -0.0007), (612.7, 0.0003), (614.5, -0.0002), (616.2, 0.0014), (617.9, 0.0003), (619.6, 0.0019),
    (621.4, 0.0009), (623.1, 0.0030), (624.8, 0.0041), (626.5, 0.0019), (628.3, 0.0035), (630.0, 0.0003),
    (631.7, 0.0025), (633.4, 0.0014), (635.2, -0.0013), (636.9, 0.0014), (638.6, 0.0009), (640.3, 0.0019),
    (642.1, 0.0009), (643.8, 0.0014), (645.5, 0.0003), (647.2, 0.0014), (649.0, 0.0009), (650.7, 0.0019),
    (652.4, 0.0003), (654.2, 0.0014), (655.9, 0.0009), (657.6, 0.0019), (659.3, 0.0003), (661.1, 0.0030),
    (662.8, 0.0009), (664.5, 0.0025), (666.2, 0.0003), (668.0, 0.0035), (669.7, 0.0019), (671.4, 0.0046),
    (673.1, 0.0025), (674.9, 0.0035), (676.6, 0.0014), (678.3, 0.0041), (680.0, 0.0019), (681.8, 0.0030),
    (683.5, 0.0009), (685.2, 0.0035), (687.0, 0.0019), (688.7, 0.0041), (690.4, 0.0014), (692.1, 0.0046),
    (693.9, 0.0019), (695.6, 0.0003), (697.3, -0.0002), (699.0, -0.0034), (700.8, -0.0045), (702.5, -0.0029),
    (704.2, -0.0040), (705.9, -0.0050), (707.7, -0.0077), (709.4, -0.0098), (711.1, -0.0120), (712.8, -0.0098),
    (714.6, -0.0082), (716.3, -0.0061), (718.0, -0.0050), (719.7, -0.0034), (721.5, -0.0029), (723.2, -0.0013),
    (724.9, -0.0002), (726.6, -0.0007), (728.4, 0.0009), (730.1, 0.0003), (731.8, 0.0019), (733.5, 0.0009),
    (735.3, 0.0025), (737.0, 0.0014), (738.7, 0.0030), (740.4, 0.0019), (742.2, 0.0035), (743.9, 0.0030),
    (745.6, 0.0046), (747.4, 0.0035), (749.1, 0.0041), (750.8, 0.0043), (752.5, 0.0035), (754.3, 0.0041),
    (756.0, 0.0030), (757.7, 0.0035), (759.4, 0.0019), (761.2, 0.0009), (762.9, 0.0003), (764.6, -0.0013),
    (766.3, -0.0018), (768.1, -0.0040), (769.8, -0.0072), (771.5, -0.0093), (773.2, -0.0104), (775.0, -0.0088),
    (776.7, -0.0082), (778.4, -0.0077), (780.2, -0.0066), (781.9, -0.0061), (783.6, -0.0056), (785.3, -0.0050),
    (787.1, -0.0061), (788.8, -0.0050), (790.5, -0.0066), (792.2, -0.0056), (794.0, -0.0061), (795.7, -0.0050),
    (797.4, -0.0077), (799.1, -0.0066), (800.9, -0.0045), (802.6, -0.0034), (804.3, -0.0024), (806.0, -0.0034),
    (807.8, -0.0024), (809.5, -0.0040), (811.2, -0.0018), (812.9, -0.0029), (814.7, -0.0024), (816.4, -0.0007),
    (818.1, 0.0014), (819.8, -0.0018), (821.6, -0.0029), (823.3, -0.0013), (825.0, -0.0034), (826.7, -0.0024),
    (828.5, -0.0040), (830.2, -0.0034), (831.9, -0.0050), (833.7, -0.0056), (835.4, -0.0066), (837.1, -0.0061),
    (838.8, -0.0077), (840.6, -0.0082), (842.3, -0.0098), (844.0, -0.0093), (845.7, -0.0077), (847.5, -0.0088),
    (849.2, -0.0072), (850.9, -0.0077), (852.6, -0.0056), (854.4, -0.0050), (856.1, -0.0061), (857.8, -0.0045),
    (859.5, -0.0061), (861.3, -0.0072), (863.0, -0.0082), (864.7, -0.0077), (866.4, -0.0066), (868.2, -0.0077),
    (869.9, -0.0061), (871.6, -0.0066), (873.4, -0.0050), (875.1, -0.0061), (876.8, -0.0045), (878.5, -0.0034),
    (880.3, -0.0040), (882.0, -0.0024), (883.7, -0.0029), (885.4, -0.0002), (887.2, 0.0009), (888.9, 0.0041),
    (890.6, 0.0094), (892.3, 0.0062), (894.1, 0.0083), (895.8, 0.0041), (897.5, 0.0073), (899.3, 0.0057),
]

# ---- axis annotation text ----
time_tick_s = [0, 100, 200, 300, 400, 500, 600, 700, 800, 900]
time_tick_text = ["9: 0: 0", "9: 1:40", "9: 3:20", "9: 5: 0", "9: 6:40",
                  "9: 8:20", "9:10: 0", "9:11:40", "9:13:20", "9:15: 0"]
time_title = "Time [HH:MM:SS UT]"
title_lines = ["PFO Data Analysis", "DOY 351  9: 0:0.0000 - DOY 351  9:15:0.0000"]
figure_id = "G-3632"

# ---- page geometry (pixels) ----
W, H = 1020, 803
PLOT_L, PLOT_R = 115, 984
FONT = "Liberation Sans, Arial, Helvetica, sans-serif"
FS = 17
LINE_COLOR = "#3a3aa8"
GRID_DASH = "7px,4px"


def fy(px):
    """pixel row -> paper y"""
    return 1 - px / H


def fx(px):
    return px / W


panels = [
    dict(data=ipzn_vel, top=56, bottom=166, yrange=[-0.00214, 0.02405],
         ticks=[0, 0.01, 0.02], labels=["0", "0.01", "0.02"],
         ylabel=["IPZN VEL", "[V]"], lx=[45, 62.5]),
    dict(data=ipzn_dir, top=201.7, bottom=310.7, yrange=[-0.6, 4.97],
         ticks=[0, 2, 4], labels=["0", "2", "4"],
         ylabel=["IPZN DIR", "[V]"], lx=[64, 81.5]),
    dict(data=ipzs_vel, top=346, bottom=456.7, yrange=[-0.0021, 0.0261],
         ticks=[0, 0.01, 0.02], labels=["0", "0.01", "0.02"],
         ylabel=["IPZS VEL", "[V]"], lx=[42.5, 60]),
    dict(data=ipzs_dir, top=492.7, bottom=600.7, yrange=[-0.52, 4.42],
         ticks=[0, 2, 4], labels=["0", "2", "4"],
         ylabel=["IPZS DIR", "[V]"], lx=[64, 81.5]),
    dict(data=mb_itmp_flt, top=636, bottom=746.7, yrange=[-0.0219, 0.0132],
         ticks=[-0.02, -0.01, 0, 0.01], labels=["-0.02", "-0.01", "0", "0.01"],
         ylabel=["MB", "ITMP FLT", "[V]"], lx=[18.5, 35, 52.5]),
]

fig = go.Figure()
layout = dict(
    width=W, height=H, autosize=False, margin=dict(l=0, r=0, t=0, b=0, pad=0),
    paper_bgcolor="white", plot_bgcolor="white", showlegend=False,
    font=dict(family=FONT, size=FS, color="black"),
)
annotations = []

axis_common = dict(
    automargin=False,
    showline=True, linecolor="black", linewidth=1.5, mirror="ticks",
    ticks="inside", ticklen=7, tickwidth=1.3, tickcolor="black",
    showgrid=True, gridcolor="black", gridwidth=1, griddash=GRID_DASH,
    zeroline=False, fixedrange=True,
    tickfont=dict(family=FONT, size=FS, color="black", weight="bold"),
)

for i, p in enumerate(panels, start=1):
    xs = [d[0] for d in p["data"]]
    ys = [d[1] for d in p["data"]]
    fig.add_trace(go.Scatter(
        x=xs, y=ys, mode="lines", xaxis=f"x{i}", yaxis=f"y{i}",
        line=dict(color=LINE_COLOR, width=1.25), hoverinfo="skip",
    ))
    layout[f"xaxis{i}"] = dict(
        axis_common, domain=[fx(PLOT_L), fx(PLOT_R)], anchor=f"y{i}",
        range=[0, 900], tickmode="array", tickvals=time_tick_s, ticktext=time_tick_text,
    )
    layout[f"yaxis{i}"] = dict(
        axis_common, domain=[fy(p["bottom"]), fy(p["top"])], anchor=f"x{i}",
        range=p["yrange"], tickmode="array", tickvals=p["ticks"], ticktext=p["labels"],
    )
    # rotated channel name, one annotation per line
    yc = fy((p["top"] + p["bottom"]) / 2)
    for text, lx in zip(p["ylabel"], p["lx"]):
        annotations.append(dict(
            text=text, x=fx(lx), y=yc, xref="paper", yref="paper",
            xanchor="center", yanchor="middle", textangle=-90, showarrow=False,
            font=dict(family=FONT, size=FS, color="black", weight="bold"),
        ))

# time-axis captions under the upper four panels are hidden behind the
# next panel; draw them in a clipped strip that ends at that panel's top edge
STRIP = 30
for k in range(4):
    j = 6 + k
    nxt_top = panels[k + 1]["top"]
    layout[f"xaxis{j}"] = dict(domain=[fx(PLOT_L), fx(PLOT_R)], anchor=f"y{j}",
                               range=[0, 900], visible=False, fixedrange=True,
                               automargin=False)
    layout[f"yaxis{j}"] = dict(domain=[fy(nxt_top), fy(nxt_top - STRIP)], anchor=f"x{j}",
                               range=[0, STRIP], visible=False, fixedrange=True,
                               automargin=False)
    fig.add_trace(go.Scatter(
        x=[450], y=[2.5], mode="text", text=[time_title], textposition="middle center",
        textfont=dict(family=FONT, size=FS, color="black", weight="bold"),
        cliponaxis=True, xaxis=f"x{j}", yaxis=f"y{j}", hoverinfo="skip",
    ))

# full caption under the bottom panel
annotations.append(dict(
    text=time_title, x=fx((PLOT_L + PLOT_R) / 2), y=fy(780), xref="paper", yref="paper",
    xanchor="center", yanchor="middle", showarrow=False,
    font=dict(family=FONT, size=FS, color="black", weight="bold"),
))

# two-line heading
for text, ypx in zip(title_lines, [15.5, 36.5]):
    annotations.append(dict(
        text=text, x=fx(550), y=fy(ypx), xref="paper", yref="paper",
        xanchor="center", yanchor="middle", showarrow=False,
        font=dict(family=FONT, size=FS, color="black", weight="bold"),
    ))

annotations.append(dict(
    text=figure_id, x=fx(1012), y=fy(791), xref="paper", yref="paper",
    xanchor="right", yanchor="middle", showarrow=False,
    font=dict(family=FONT, size=22, color="#2a2a2a"),
))

layout["annotations"] = annotations
fig.update_layout(**layout)
fig.write_html("out.html")
